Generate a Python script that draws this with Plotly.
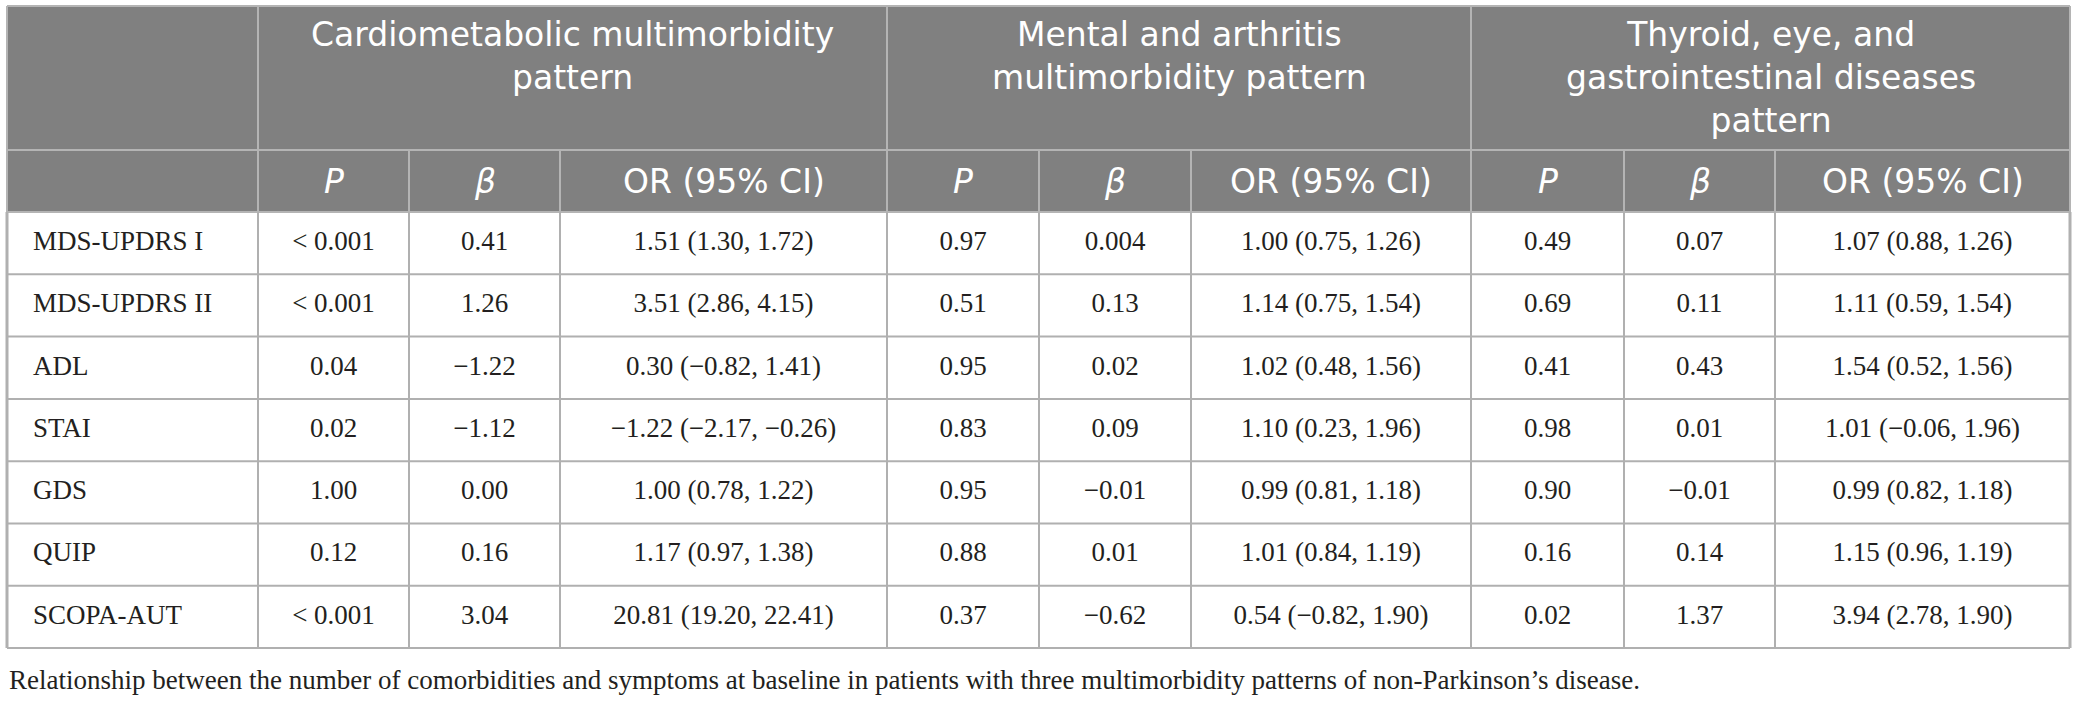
import plotly.graph_objects as go

# table content
row_labels = ["MDS-UPDRS I", "MDS-UPDRS II", "ADL", "STAI", "GDS", "QUIP", "SCOPA-AUT"]

group_titles = ["Cardiometabolic multimorbidity<br>pattern",
                "Mental and arthritis<br>multimorbidity pattern",
                "Thyroid, eye, and<br>gastrointestinal diseases<br>pattern"]
sub_titles = ["<i>P</i>", "<i>β</i>", "OR (95% CI)"]

cardio_p = ["< 0.001", "< 0.001", "0.04", "0.02", "1.00", "0.12", "< 0.001"]
cardio_b = ["0.41", "1.26", "−1.22", "−1.12", "0.00", "0.16", "3.04"]
cardio_or = ["1.51 (1.30, 1.72)", "3.51 (2.86, 4.15)", "0.30 (−0.82, 1.41)",
             "−1.22 (−2.17, −0.26)", "1.00 (0.78, 1.22)", "1.17 (0.97, 1.38)",
             "20.81 (19.20, 22.41)"]

mental_p = ["0.97", "0.51", "0.95", "0.83", "0.95", "0.88", "0.37"]
mental_b = ["0.004", "0.13", "0.02", "0.09", "−0.01", "0.01", "−0.62"]
mental_or = ["1.00 (0.75, 1.26)", "1.14 (0.75, 1.54)", "1.02 (0.48, 1.56)",
             "1.10 (0.23, 1.96)", "0.99 (0.81, 1.18)", "1.01 (0.84, 1.19)",
             "0.54 (−0.82, 1.90)"]

thyroid_p = ["0.49", "0.69", "0.41", "0.98", "0.90", "0.16", "0.02"]
thyroid_b = ["0.07", "0.11", "0.43", "0.01", "−0.01", "0.14", "1.37"]
thyroid_or = ["1.07 (0.88, 1.26)", "1.11 (0.59, 1.54)", "1.54 (0.52, 1.56)",
              "1.01 (−0.06, 1.96)", "0.99 (0.82, 1.18)", "1.15 (0.96, 1.19)",
              "3.94 (2.78, 1.90)"]

caption = ("Relationship between the number of comorbidities and symptoms at baseline "
           "in patients with three multimorbidity patterns of non-Parkinson’s disease.")

columns = [cardio_p, cardio_b, cardio_or,
           mental_p, mental_b, mental_or,
           thyroid_p, thyroid_b, thyroid_or]

# layout in pixels
W, H = 2078, 703
left = 7
col_w = [251, 151, 151, 327, 152, 152, 280, 153, 151, 295]
top, h1_bot, h2_bot = 6, 150, 212
row_h = 62.3

edges = [left]
for w in col_w:
    edges.append(edges[-1] + w)
right = edges[-1]
bottom = h2_bot + row_h * len(row_labels)

HEAD_BG = "#808080"
HEAD_LINE = "#b4b4b4"
BODY_LINE = "#b0b0b0"
TXT = "#231f20"
SERIF = "Liberation Serif"
SANS = "DejaVu Sans"

fig = go.Figure()
shapes = []

shapes.append(dict(type="rect", x0=left, x1=right, y0=top, y1=h2_bot,
                   fillcolor=HEAD_BG, line=dict(width=0), layer="below"))

# horizontal rules
for y in [top, h1_bot, h2_bot]:
    shapes.append(dict(type="line", x0=left, x1=right, y0=y, y1=y,
                       line=dict(color=HEAD_LINE, width=2)))
for i in range(1, len(row_labels) + 1):
    y = h2_bot + row_h * i
    shapes.append(dict(type="line", x0=left, x1=right, y0=y, y1=y,
                       line=dict(color=BODY_LINE, width=2)))

# vertical rules
for j, x in enumerate(edges):
    full = j in (0, 1, 4, 7, len(edges) - 1)
    y_start = top if full else h1_bot
    shapes.append(dict(type="line", x0=x, x1=x, y0=y_start, y1=h2_bot,
                       line=dict(color=HEAD_LINE, width=2)))
    shapes.append(dict(type="line", x0=x, x1=x, y0=h2_bot, y1=bottom,
                       line=dict(color=BODY_LINE, width=2 if 0 < j < len(edges) - 1 else 3)))

annotations = []
# group headers
for g, title in enumerate(group_titles):
    x0, x1 = edges[1 + 3 * g], edges[4 + 3 * g]
    annotations.append(dict(x=(x0 + x1) / 2, y=top + 7, text=title, showarrow=False,
                            xanchor="center", yanchor="top", align="center",
                            font=dict(family=SANS, size=33, color="white")))
# sub headers
for j in range(9):
    xc = (edges[1 + j] + edges[2 + j]) / 2
    annotations.append(dict(x=xc, y=(h1_bot + h2_bot) / 2, text=sub_titles[j % 3],
                            showarrow=False, xanchor="center", yanchor="middle",
                            font=dict(family=SANS, size=33, color="white")))

row_y = [h2_bot + row_h * (i + 0.5) for i in range(len(row_labels))]

fig.add_trace(go.Scatter(x=[left + 26] * len(row_labels), y=row_y, text=row_labels,
                         mode="text", textposition="middle right",
                         textfont=dict(family=SERIF, size=27, color=TXT),
                         hoverinfo="skip", showlegend=False))
for j, col in enumerate(columns):
    xc = (edges[1 + j] + edges[2 + j]) / 2
    fig.add_trace(go.Scatter(x=[xc] * len(col), y=row_y, text=col,
                             mode="text", textposition="middle center",
                             textfont=dict(family=SERIF, size=27, color=TXT),
                             hoverinfo="skip", showlegend=False))

annotations.append(dict(x=left, y=bottom + 32, text=caption, showarrow=False,
                        xanchor="left", yanchor="middle",
                        font=dict(family=SERIF, size=27, color=TXT)))

fig.update_layout(
    width=W, height=H,
    margin=dict(l=0, r=0, t=0, b=0),
    paper_bgcolor="white", plot_bgcolor="white",
    shapes=shapes, annotations=annotations,
    xaxis=dict(range=[0, W], visible=False, fixedrange=True),
    yaxis=dict(range=[H, 0], visible=False, fixedrange=True),
)

fig.write_html("out.html", config={"displayModeBar": False},
               post_script="document.body.style.margin='0';document.body.style.overflow='hidden';")
